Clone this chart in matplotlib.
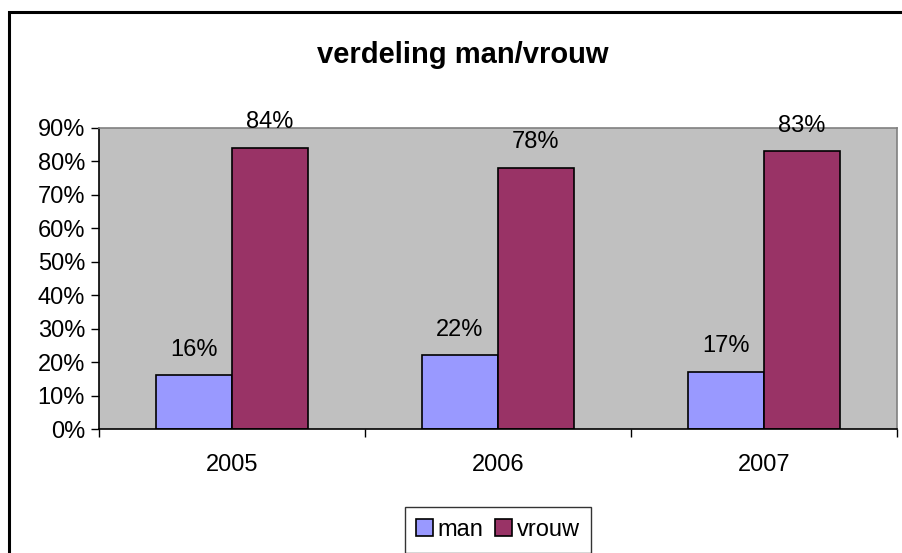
import numpy as np
import matplotlib
matplotlib.use('Agg')
import matplotlib.pyplot as plt
from matplotlib.patches import Rectangle
from matplotlib.ticker import FuncFormatter

plt.rcParams['font.family'] = ['Liberation Sans', 'DejaVu Sans']

#----------data----------
years = ['2005', '2006', '2007']
man   = [16, 22, 17]
vrouw = [84, 78, 83]

c_man   = '#9999FF'
c_vrouw = '#993366'
fs = 17

#==================================================================
def plot_chart():
    fig = plt.figure(figsize=(9.03, 5.53), dpi=100)
    W, H = 903, 553

    # outer chart border (only left/top visible in the reference)
    fig.patches.append(Rectangle((9/W, -0.1), 1.2, (H - 12)/H + 0.1,
                                 transform=fig.transFigure, fill=False,
                                 edgecolor='black', linewidth=2.2))

    ax = fig.add_axes([99/W, 1 - 429/H, (897 - 99)/W, (429 - 128)/H])
    ax.set_facecolor('#C0C0C0')

    x = np.arange(len(years))
    w = 1/3.5
    b1 = ax.bar(x - w/2, man, w, color=c_man, edgecolor='black', linewidth=1.2, label='man')
    b2 = ax.bar(x + w/2, vrouw, w, color=c_vrouw, edgecolor='black', linewidth=1.2, label='vrouw')

    #---------data labels---------
    for bars, vals in ((b1, man), (b2, vrouw)):
        for r, v in zip(bars, vals):
            ax.annotate('%d%%' % v, (r.get_x() + r.get_width()/2, v),
                        xytext=(0, 18.5), textcoords='offset points',
                        ha='center', va='center', fontsize=fs)

    ax.set_xlim(-0.5, 2.5)
    ax.set_ylim(0, 90)
    ax.set_yticks(np.arange(0, 91, 10))
    ax.yaxis.set_major_formatter(FuncFormatter(lambda v, p: '%d%%' % v))
    ax.set_xticks(x)
    ax.set_xticklabels(years)
    ax.set_xticks([-0.5, 0.5, 1.5, 2.5], minor=True)
    ax.tick_params(axis='x', which='major', length=0, pad=18, labelsize=fs)
    ax.tick_params(axis='x', which='minor', length=6, width=1, direction='out')
    ax.tick_params(axis='y', length=6, width=1, direction='out', labelsize=fs, pad=4)

    ax.spines['left'].set_color('black')
    ax.spines['bottom'].set_color('black')
    ax.spines['top'].set_color('#808080')
    ax.spines['right'].set_color('#808080')
    for s in ax.spines.values():
        s.set_linewidth(1.2)

    fig.text(463/W, 1 - 55/H, 'verdeling man/vrouw', ha='center', va='center',
             fontsize=21, fontweight='bold')

    leg = fig.legend(loc='center', bbox_to_anchor=(498/W, 1 - 530/H), ncol=2,
                     fontsize=fs, frameon=True, fancybox=False, edgecolor='black',
                     handlelength=0.7, handleheight=0.7, handletextpad=0.2,
                     columnspacing=0.5, borderpad=0.5)
    leg.get_frame().set_linewidth(1.0)

    fig.savefig('out.png', dpi=100)

#==================================================================
if __name__ == "__main__":
    plot_chart()
